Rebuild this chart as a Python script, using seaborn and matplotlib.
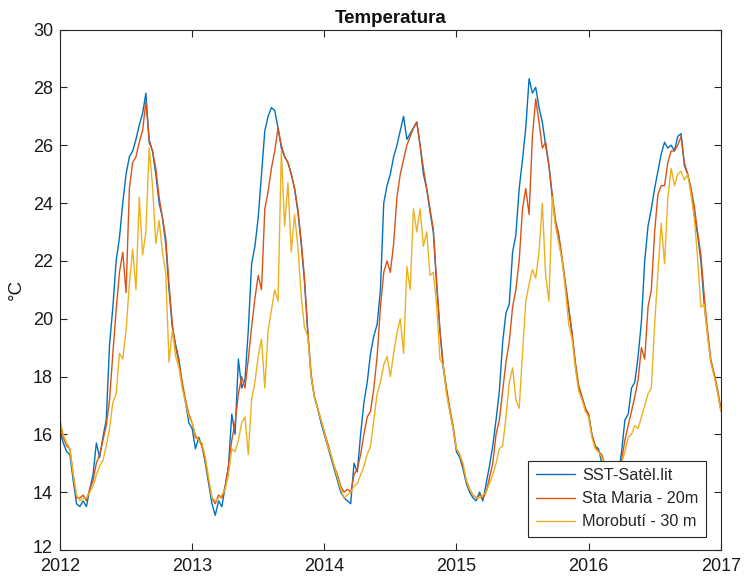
import numpy as np
import pandas as pd
import matplotlib
matplotlib.use("Agg")
import matplotlib.pyplot as plt
import matplotlib.transforms as mtransforms
import seaborn as sns

# ---- data: values sampled every 1/40 year (~9 days) ----
years = [2012, 2013, 2014, 2015, 2016]
samples_per_year = 40
series_names = ["SST-Satèl.lit", "Sta Maria - 20m", "Morobutí - 30 m"]
series_colors = ["#0072BD", "#D95319", "#EDB120"]

sst_2012 = [16.1, 15.7, 15.4, 15.3, 14.4, 13.6, 13.5, 13.7, 13.5, 14.1,
            14.6, 15.7, 15.2, 15.9, 16.5, 19.1, 20.4, 22.0, 22.8, 24.0,
            25.0, 25.6, 25.8, 26.2, 26.7, 27.1, 27.8, 26.1, 25.8, 25.0,
            24.0, 23.5, 22.6, 21.0, 19.7, 19.1, 18.6, 17.7, 17.1, 16.4]
sta_2012 = [16.3, 15.9, 15.6, 15.5, 14.6, 13.8, 13.8, 13.9, 13.7, 14.1,
            14.4, 15.0, 15.3, 15.8, 16.3, 17.2, 18.8, 20.3, 21.6, 22.3,
            20.9, 24.5, 25.4, 25.6, 26.1, 26.5, 27.5, 26.2, 25.8, 25.2,
            24.2, 23.5, 22.8, 21.2, 19.8, 19.0, 18.5, 17.8, 17.2, 16.7]
mor_2012 = [16.5, 16.0, 15.7, 15.5, 14.6, 13.9, 13.7, 13.8, 13.8, 14.0,
            14.2, 14.6, 14.9, 15.1, 15.6, 16.2, 17.1, 17.4, 18.8, 18.6,
            19.6, 21.2, 22.4, 21.0, 24.2, 22.2, 23.0, 25.9, 24.6, 22.6,
            23.4, 22.3, 21.6, 18.5, 19.6, 18.7, 18.3, 17.6, 17.1, 16.6]

sst_2013 = [16.2, 15.5, 15.9, 15.6, 15.0, 14.3, 13.6, 13.2, 13.7, 13.5,
            14.2, 14.9, 16.7, 16.0, 18.6, 17.6, 17.9, 19.6, 21.9, 22.5,
            23.5, 25.0, 26.5, 27.0, 27.3, 27.2, 26.6, 25.9, 25.6, 25.4,
            25.0, 24.5, 23.7, 22.6, 21.3, 19.5, 18.0, 17.3, 16.9, 16.4]
sta_2013 = [16.4, 15.9, 15.8, 15.6, 15.1, 14.4, 13.8, 13.6, 13.9, 13.8,
            14.2, 14.9, 15.8, 16.4, 17.4, 18.0, 17.6, 18.6, 19.7, 20.7,
            21.5, 21.0, 23.8, 24.4, 25.2, 25.8, 26.6, 26.0, 25.6, 25.4,
            25.0, 24.5, 23.8, 22.7, 21.4, 19.6, 18.1, 17.3, 16.9, 16.5]
mor_2013 = [16.4, 16.0, 15.8, 15.7, 15.2, 14.5, 13.8, 13.7, 13.8, 13.9,
            14.1, 14.6, 15.5, 15.4, 15.8, 16.4, 16.6, 15.3, 17.2, 17.8,
            18.7, 19.3, 17.6, 19.6, 20.3, 21.0, 20.6, 25.8, 23.2, 24.7,
            22.3, 23.6, 22.5, 20.8, 19.7, 19.4, 18.0, 17.3, 16.9, 16.5]

sst_2014 = [16.0, 15.6, 15.2, 14.8, 14.4, 14.0, 13.8, 13.7, 13.6, 15.0,
            14.7, 16.0, 17.1, 17.8, 18.8, 19.4, 19.8, 21.0, 24.0, 24.6,
            25.0, 25.6, 26.0, 26.5, 27.0, 26.2, 26.4, 26.6, 26.8, 26.0,
            25.0, 24.5, 23.7, 23.0, 21.2, 19.6, 18.3, 17.5, 16.8, 16.2]
sta_2014 = [16.1, 15.7, 15.3, 14.9, 14.6, 14.2, 14.0, 14.1, 14.0, 14.6,
            14.8, 15.3, 16.0, 16.6, 16.8, 17.6, 18.7, 20.4, 21.6, 22.0,
            21.6, 22.6, 24.2, 25.0, 25.5, 26.0, 26.3, 26.6, 26.8, 26.0,
            25.2, 24.5, 23.8, 23.1, 21.3, 19.6, 18.4, 17.6, 16.9, 16.3]
mor_2014 = [16.1, 15.6, 15.3, 14.9, 14.5, 14.1, 13.8, 13.9, 14.0, 14.2,
            14.3, 14.6, 14.9, 15.3, 15.6, 16.5, 17.4, 17.8, 18.4, 18.7,
            18.0, 18.8, 19.5, 20.0, 18.8, 21.8, 21.0, 23.8, 23.0, 23.8,
            22.5, 23.0, 21.5, 21.6, 20.5, 18.6, 18.4, 17.4, 16.8, 16.2]

sst_2015 = [15.4, 15.2, 14.8, 14.3, 14.0, 13.8, 13.7, 14.0, 13.7, 14.3,
            14.9, 15.6, 16.5, 17.5, 19.2, 20.2, 20.5, 22.3, 22.9, 24.5,
            25.5, 26.6, 28.3, 27.8, 28.0, 27.3, 26.8, 26.0, 25.3, 24.2,
            23.3, 22.8, 22.0, 21.2, 20.3, 19.5, 18.4, 17.6, 17.3, 16.9]
sta_2015 = [15.5, 15.3, 14.9, 14.4, 14.1, 13.9, 13.8, 13.9, 13.8, 14.0,
            14.5, 15.0, 16.0, 16.5, 17.5, 18.5, 19.2, 20.4, 21.0, 22.0,
            23.8, 24.5, 23.6, 26.3, 27.6, 26.8, 25.9, 26.1, 25.3, 24.3,
            23.4, 22.9, 22.1, 21.2, 20.4, 19.5, 18.5, 17.7, 17.3, 16.9]
mor_2015 = [15.5, 15.3, 15.0, 14.4, 14.1, 13.9, 13.8, 13.8, 13.9, 14.0,
            14.3, 14.6, 15.0, 15.5, 15.6, 16.6, 17.8, 18.3, 17.2, 16.9,
            18.8, 20.6, 21.2, 21.7, 21.4, 22.3, 24.0, 21.5, 20.6, 24.2,
            23.2, 22.6, 22.0, 21.0, 19.8, 19.3, 18.3, 17.5, 17.2, 16.8]

sst_2016 = [16.7, 16.0, 15.6, 15.5, 15.0, 14.8, 14.8, 14.4, 14.3, 14.6,
            15.4, 16.5, 16.7, 17.6, 17.8, 18.7, 19.9, 22.0, 23.2, 23.8,
            24.5, 25.1, 25.7, 26.1, 25.9, 26.0, 25.8, 26.3, 26.4, 25.3,
            25.0, 24.5, 23.6, 22.9, 22.0, 20.5, 19.5, 18.5, 18.1, 17.5]
sta_2016 = [16.7, 16.0, 15.6, 15.4, 15.3, 14.9, 14.8, 14.5, 14.4, 14.6,
            15.1, 15.8, 16.3, 16.8, 17.3, 17.9, 19.0, 18.6, 20.4, 21.0,
            23.0, 24.3, 24.6, 24.6, 25.4, 25.8, 25.8, 26.0, 26.3, 25.4,
            25.0, 24.5, 23.9, 23.0, 22.2, 20.8, 19.6, 18.6, 18.1, 17.6]
mor_2016 = [16.6, 15.9, 15.5, 15.4, 15.2, 14.9, 14.7, 14.5, 14.4, 14.6,
            15.0, 15.4, 15.9, 16.0, 16.3, 16.2, 16.6, 17.0, 17.4, 17.6,
            19.8, 21.6, 23.3, 21.9, 24.2, 25.2, 24.6, 25.0, 25.1, 24.8,
            25.0, 24.3, 23.5, 22.1, 20.4, 20.5, 19.4, 18.5, 18.0, 17.5]

# value on 1 Jan 2017 (right edge)
sst_end, sta_end, mor_end = 16.9, 16.9, 16.8

# ---- long-form table ----
blocks = {
    series_names[0]: ([sst_2012, sst_2013, sst_2014, sst_2015, sst_2016], sst_end),
    series_names[1]: ([sta_2012, sta_2013, sta_2014, sta_2015, sta_2016], sta_end),
    series_names[2]: ([mor_2012, mor_2013, mor_2014, mor_2015, mor_2016], mor_end),
}
rows = []
for name, (yearly, end_val) in blocks.items():
    for yr, vals in zip(years, yearly):
        for i, v in enumerate(vals):
            rows.append((name, yr + i / samples_per_year, v))
    rows.append((name, years[-1] + 1.0, end_val))
df = pd.DataFrame(rows, columns=["series", "t", "temp"])

# ---- plot ----
sns.set_style("ticks")
plt.rcParams["font.family"] = ["Liberation Sans", "DejaVu Sans"]

fig = plt.figure(figsize=(7.48, 5.76), dpi=100)
ax = fig.add_axes([60 / 748, 26 / 576, 660.7 / 748, 520.5 / 576])

sns.lineplot(data=df, x="t", y="temp", hue="series", hue_order=series_names,
             palette=series_colors, estimator=None, sort=False,
             linewidth=1.0, ax=ax)

ax.set_xlim(2012, 2017)
ax.set_ylim(12, 30)
ax.set_xticks(range(2012, 2018))
ax.set_xticklabels([str(y) for y in range(2012, 2018)])
ax.set_yticks(range(12, 31, 2))
ax.set_xlabel("")
ax.set_ylabel("°C", fontsize=13.5, labelpad=6, color="#1a1a1a")
ax.set_title("Temperatura", fontsize=13.5, fontweight="bold", pad=5, color="#111111")

for s in ax.spines.values():
    s.set_visible(True)
    s.set_color("#262626")
    s.set_linewidth(0.8)
ax.tick_params(direction="in", top=True, right=True, length=5, width=0.8,
               colors="#262626", labelsize=13, labelcolor="#1a1a1a")
ax.tick_params(axis="x", pad=6)
ax.tick_params(axis="y", pad=5)

# nudge the lowest y label ("12") up a little so it clears the "2012" label
lowest = ax.yaxis.get_major_ticks()[0].label1
lowest.set_transform(lowest.get_transform() +
                     mtransforms.ScaledTranslation(0, 2.5 / 72, fig.dpi_scale_trans))

handles, labels = ax.get_legend_handles_labels()
leg = ax.legend(handles, labels, loc="lower right",
                bbox_to_anchor=(645.7 / 660.7, 13.3 / 520.5), borderaxespad=0,
                fontsize=11.7, frameon=True, fancybox=False, framealpha=1,
                edgecolor="#262626", handlelength=2.4, handletextpad=0.45,
                labelspacing=0.5, borderpad=0.45)
leg.get_frame().set_linewidth(0.8)
for line in leg.get_lines():
    line.set_linewidth(1.0)

fig.savefig("out.png", dpi=100)
